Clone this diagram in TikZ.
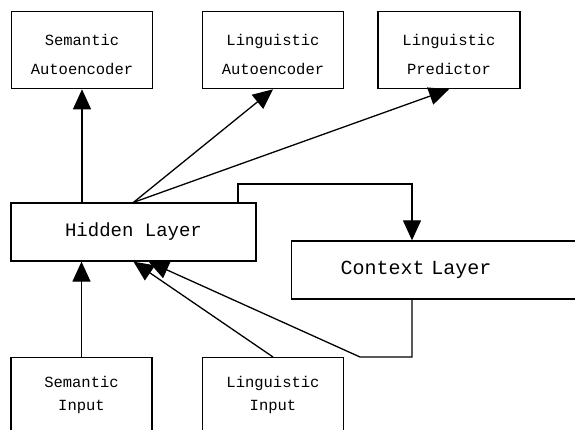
\documentclass[tikz,border=0pt]{standalone}
\usepackage{fontspec}
\setmainfont{Liberation Mono}
\usetikzlibrary{arrows.meta}

\begin{document}
\begin{tikzpicture}
            [x=1pt,y=-1pt,line width=1.3pt,>={Triangle[length=20pt,width=18pt]},
             every node/.style={draw,rectangle,align=center,inner sep=0pt},
             unit/.style={anchor=north,minimum width=141pt,font=\fontsize{15.5}{29}\selectfont},
             layer/.style={minimum height=58pt,font=\fontsize{19}{24}\selectfont}]
            \useasboundingbox (0,0) rectangle (575,430);
            \clip (0,0) rectangle (575,430);
            \node[unit,text height=63pt,text depth=14pt] (sae) at (82,11)  {Semantic\\Autoencoder};
            \node[unit,text height=63pt,text depth=14pt] (lae) at (273,11) {Linguistic\\Autoencoder};
            \node[unit,text height=63pt,text depth=14pt,minimum width=142pt] (lp) at (449,11) {Linguistic\\Predictor};
            \node[layer,minimum width=245pt] (hid) at (133.5,232) {Hidden Layer};
            \node[layer,anchor=west,inner xsep=49pt,text width=211pt,align=left,font=\fontsize{20}{24}\selectfont] (ctx) at (291,270) {Context Layer};
            \node[unit,text height=53pt,text depth=60pt,font=\fontsize{15.5}{23}\selectfont] (sin) at (81.5,357) {Semantic\\Input};
            \node[unit,text height=53pt,text depth=60pt,font=\fontsize{15.5}{23}\selectfont] (lin) at (273,357) {Linguistic\\Input};
            \coordinate (c1) at (412,357);
            \coordinate (c2) at (360,357);
            \coordinate (c3) at (238,184);
            \coordinate (c4) at (412,184);
            \foreach \from/\to in {hid.north/lae.south,hid.north/lp.south,lin.north/hid.south}
            \draw[->] (\from) -- (\to);
            \draw[->] (sin.north) -- (sin.north |- hid.south);
            \draw[->] (sae.south |- hid.north) -- (sae.south);
            \draw[->] (c1 |- ctx.south) -- (c1) -- (c2) -- (hid.-63);
            \draw[->] (c3 |- hid.north) -- (c3) -- (c4) -- (c4 |- ctx.north);
        \end{tikzpicture}
\end{document}
